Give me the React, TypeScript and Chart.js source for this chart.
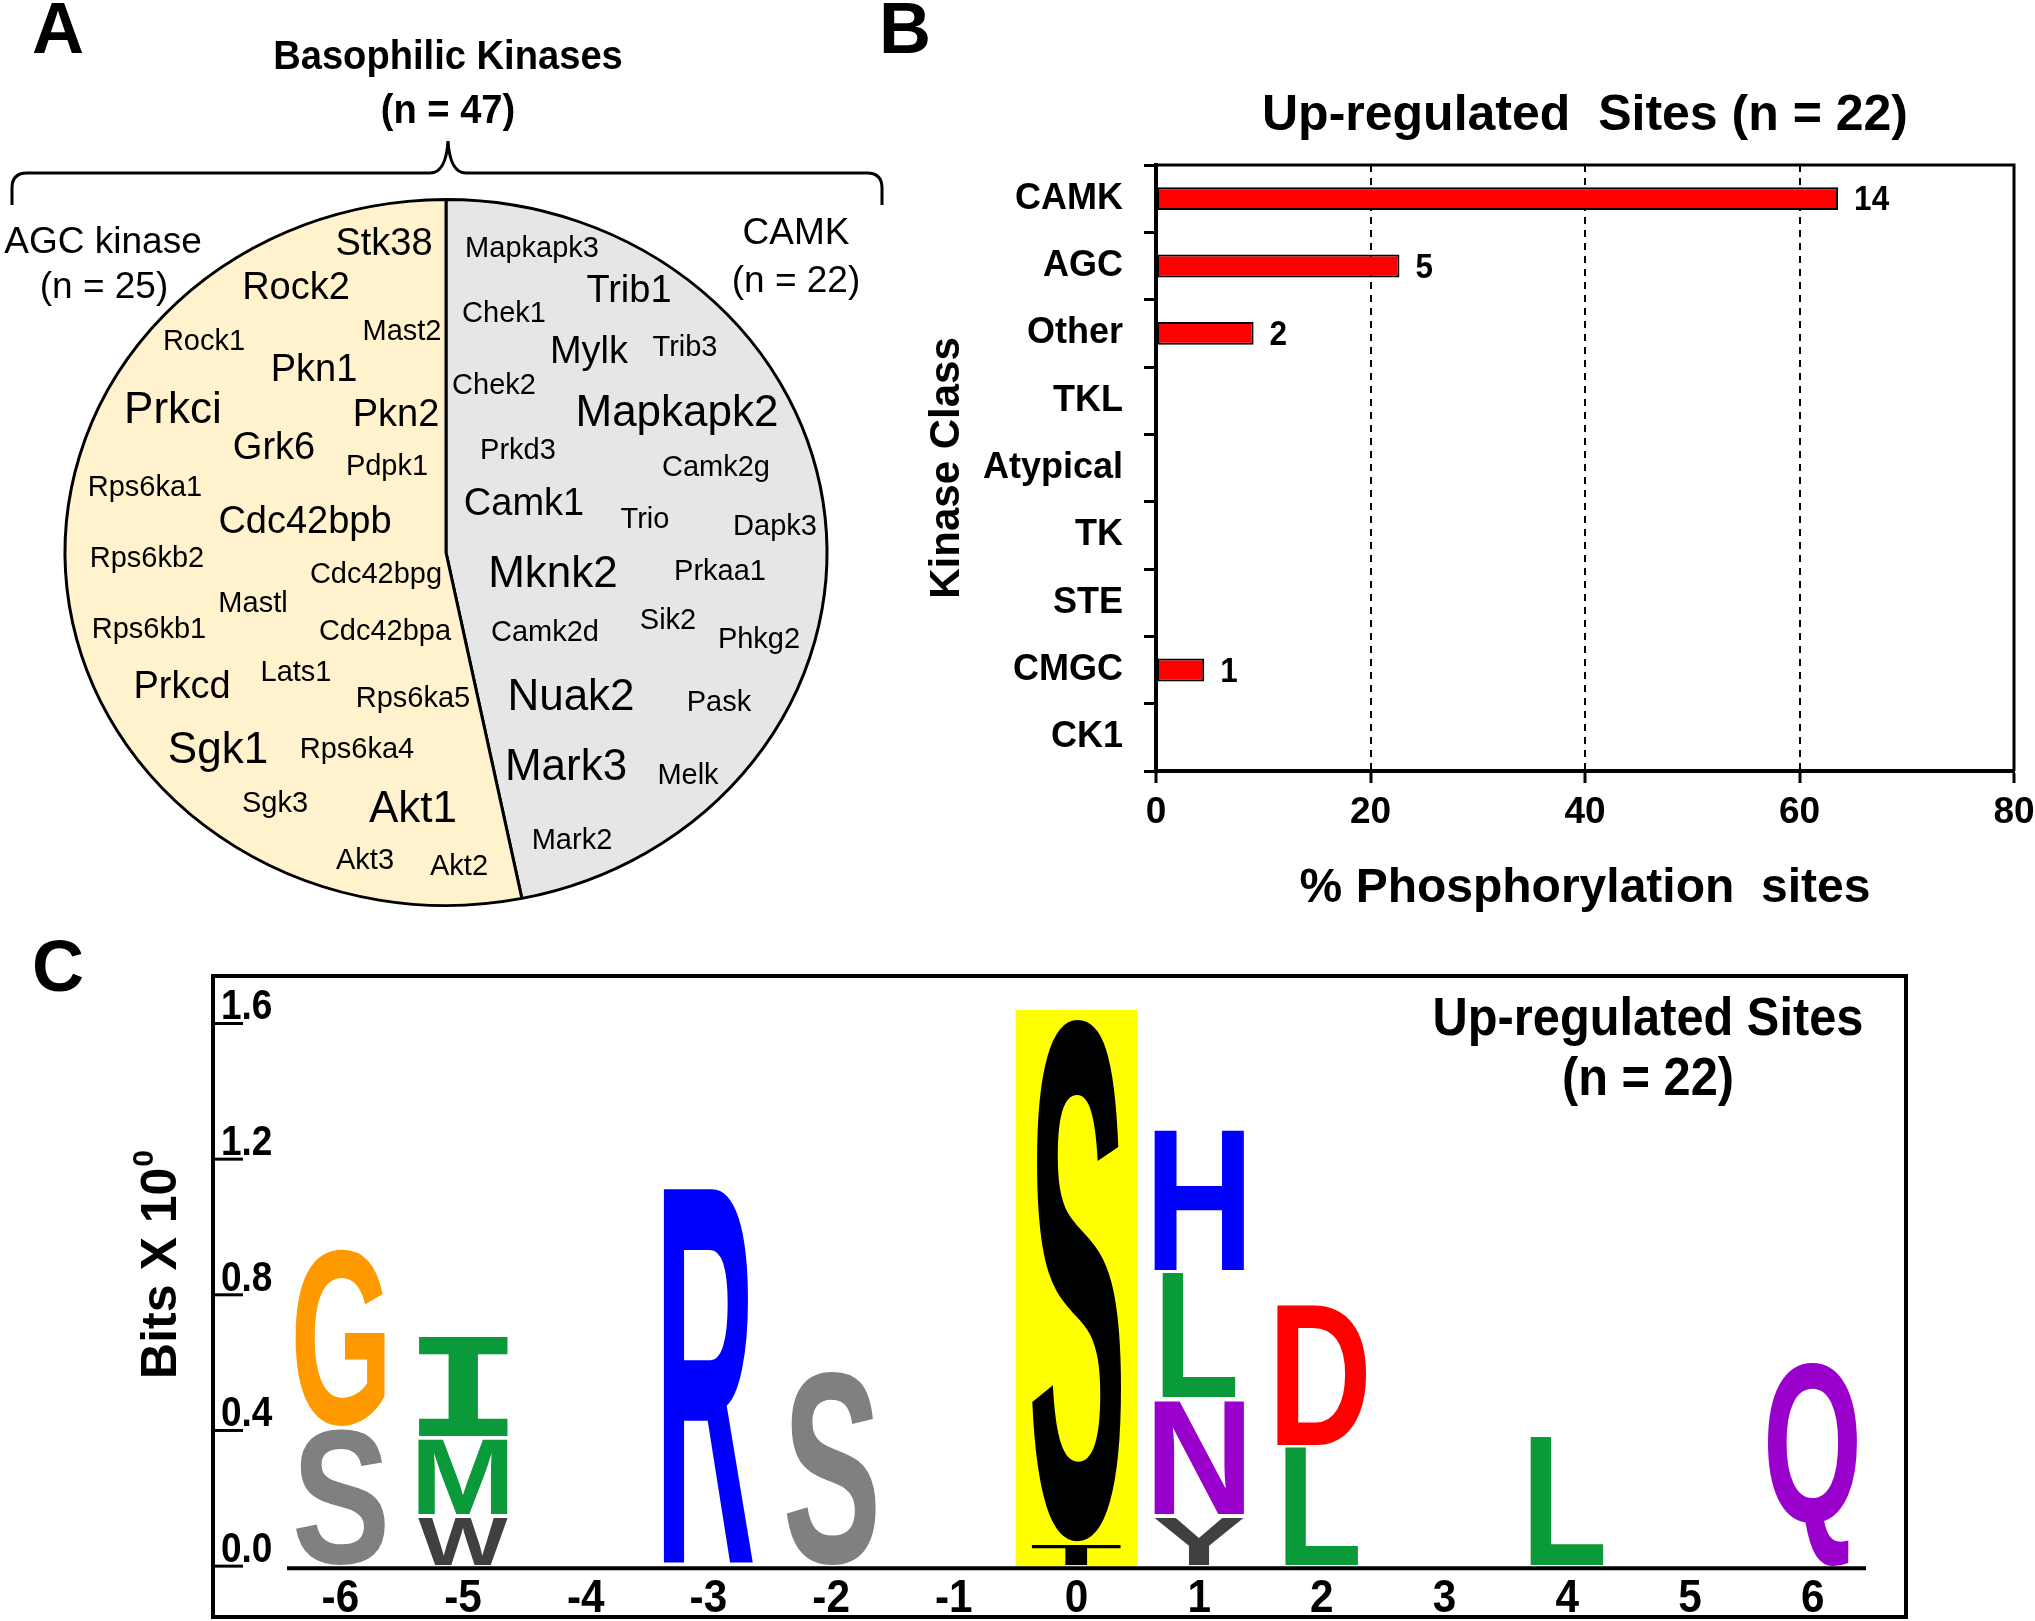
import React, { useEffect, useRef } from 'react';
import { Chart, registerables } from 'chart.js';

Chart.register(...registerables);

const FONT = "'Liberation Sans', Arial, Helvetica, sans-serif";
Chart.defaults.font.family = FONT;
Chart.defaults.color = '#000';

// ---------------- Panel A data ----------------
const pieClasses = ['CAMK', 'AGC kinase'];
const pieCounts = [22, 25];
const pieColors = ['#E6E6E6', '#FFF2CC'];
const totalKinases = 47;

const agcKinases = [
  'Stk38', 'Rock2', 'Rock1', 'Mast2', 'Pkn1', 'Prkci', 'Pkn2', 'Grk6', 'Pdpk1', 'Rps6ka1',
  'Cdc42bpb', 'Rps6kb2', 'Cdc42bpg', 'Mastl', 'Rps6kb1', 'Cdc42bpa', 'Prkcd', 'Lats1',
  'Rps6ka5', 'Sgk1', 'Rps6ka4', 'Sgk3', 'Akt1', 'Akt3', 'Akt2',
];
const camkKinases = [
  'Mapkapk3', 'Trib1', 'Chek1', 'Mylk', 'Trib3', 'Chek2', 'Mapkapk2', 'Prkd3', 'Camk2g',
  'Camk1', 'Trio', 'Dapk3', 'Mknk2', 'Prkaa1', 'Camk2d', 'Sik2', 'Phkg2', 'Nuak2', 'Pask',
  'Mark3', 'Melk', 'Mark2',
];

// layout of the word labels inside the pie: [dx, dy from pie centre, size class]
const labelFontSizes = [29, 38, 44];
const agcLabelLayout: [number, number, number][] = [
  [-62, -308, 1], [-150, -264, 1], [-242, -211, 0], [-44, -221, 0], [-132, -182, 1],
  [-273, -142, 2], [-50, -137, 1], [-172, -104, 1], [-59, -86, 0], [-301, -65, 0],
  [-141, -30, 1], [-299, 6, 0], [-70, 22, 0], [-193, 51, 0], [-297, 77, 0],
  [-61, 79, 0], [-264, 135, 1], [-150, 120, 0], [-33, 146, 0], [-228, 198, 2],
  [-89, 197, 0], [-171, 251, 0], [-33, 257, 2], [-81, 308, 0], [13, 314, 0],
];
const camkLabelLayout: [number, number, number][] = [
  [86, -304, 0], [183, -261, 1], [58, -239, 0], [143, -200, 1], [239, -205, 0],
  [48, -167, 0], [231, -139, 2], [72, -102, 0], [270, -85, 0], [78, -48, 1],
  [199, -33, 0], [329, -26, 0], [107, 22, 2], [274, 19, 0], [99, 80, 0],
  [222, 68, 0], [313, 87, 0], [125, 145, 2], [273, 150, 0], [120, 215, 2],
  [242, 223, 0], [126, 288, 0],
];
const PIE_Y_SCALE = 353 / 381;

// ---------------- Panel B data ----------------
const kinaseClasses = ['CAMK', 'AGC', 'Other', 'TKL', 'Atypical', 'TK', 'STE', 'CMGC', 'CK1'];
const sitePercent = [63.6, 22.7, 9.1, 0, 0, 0, 0, 4.5, 0];
const siteCounts = [14, 5, 2, 0, 0, 0, 0, 1, 0];
const xTicksB = [0, 20, 40, 60, 80];
const upSitesN = 22;

// ---------------- Panel C data ----------------
const logoPositions = ['-6', '-5', '-4', '-3', '-2', '-1', '0', '1', '2', '3', '4', '5', '6'];
const layer1Letters = ['S', 'W', '', 'R', 'S', '', 'T', 'Y', 'L', '', 'L', '', 'Q'];
const layer1Bits = [0.41, 0.15, 0, 1.12, 0.58, 0, 0.07, 0.15, 0.355, 0, 0.385, 0, 0.61];
const layer2Letters = ['G', 'M', '', '', '', '', 'S', 'N', 'D', '', '', '', ''];
const layer2Bits = [0.53, 0.23, 0, 0, 0, 0, 1.55, 0.345, 0.42, 0, 0, 0, 0];
const layer3Letters = ['', 'I', '', '', '', '', '', 'L', '', '', '', '', ''];
const layer3Bits = [0, 0.3, 0, 0, 0, 0, 0, 0.375, 0, 0, 0, 0, 0];
const layer4Letters = ['', '', '', '', '', '', '', 'H', '', '', '', '', ''];
const layer4Bits = [0, 0, 0, 0, 0, 0, 0, 0.425, 0, 0, 0, 0, 0];
const logoYTicks = [0, 0.4, 0.8, 1.2, 1.6];
const highlightPosition = '0';
const highlightBits = 1.64;

const aaColors: Record<string, string> = {
  G: '#FF9900', S: '#808080', W: '#404040', Y: '#404040', M: '#0A9A3A', I: '#0A9A3A',
  L: '#0A9A3A', R: '#0000FF', H: '#0000FF', D: '#FF0000', N: '#9900CC', Q: '#9900CC', T: '#000000',
};
const letterWidthFactor: Record<string, number> = { L: 0.82 };

// ---------------- helpers ----------------
function drawText(
  ctx: CanvasRenderingContext2D, text: string, x: number, y: number, font: string,
  align: CanvasTextAlign = 'center', baseline: CanvasTextBaseline = 'middle', sx = 1,
) {
  ctx.save();
  ctx.font = font;
  ctx.fillStyle = '#000';
  ctx.textAlign = align;
  ctx.textBaseline = baseline;
  ctx.translate(x, y);
  ctx.scale(sx, 1);
  ctx.fillText(text, 0, 0);
  ctx.restore();
}

function drawGlyph(ctx: CanvasRenderingContext2D, ch: string, x: number, y: number, w: number, h: number, color: string) {
  ctx.save();
  ctx.font = ch === 'I' ? "bold 200px 'DejaVu Sans Mono', 'Liberation Mono', monospace" : `bold 200px ${FONT}`;
  const m = ctx.measureText(ch);
  const gl = m.actualBoundingBoxLeft;
  const gr = m.actualBoundingBoxRight;
  const ga = m.actualBoundingBoxAscent;
  const gd = m.actualBoundingBoxDescent;
  const gw = gl + gr;
  const gh = ga + gd;
  ctx.translate(x, y);
  ctx.scale(w / gw, h / gh);
  ctx.fillStyle = color;
  ctx.textAlign = 'left';
  ctx.textBaseline = 'alphabetic';
  ctx.fillText(ch, gl, ga);
  ctx.restore();
}

// ---------------- Panel A ----------------
function PiePanel() {
  const ref = useRef<HTMLCanvasElement>(null);
  useEffect(() => {
    if (!ref.current) return;
    const ellipse = {
      id: 'ellipse',
      beforeDatasetsDraw(chart: any) {
        const arc = chart.getDatasetMeta(0).data[0];
        const ctx = chart.ctx;
        ctx.save();
        ctx.translate(arc.x, arc.y);
        ctx.scale(1, PIE_Y_SCALE);
        ctx.translate(-arc.x, -arc.y);
      },
      afterDatasetsDraw(chart: any) {
        chart.ctx.restore();
      },
    };
    const deco = {
      id: 'decoA',
      afterDraw(chart: any) {
        const ctx = chart.ctx as CanvasRenderingContext2D;
        const arc = chart.getDatasetMeta(0).data[0];
        const cx = arc.x;
        const cy = arc.y;
        const put = (names: string[], layout: [number, number, number][]) => {
          names.forEach((n, i) => {
            const [dx, dy, s] = layout[i];
            drawText(ctx, n, cx + dx, cy + dy, `${labelFontSizes[s]}px ${FONT}`);
          });
        };
        put(agcKinases, agcLabelLayout);
        put(camkKinases, camkLabelLayout);

        // panel letter
        drawText(ctx, 'A', 58, 33, `bold 72px ${FONT}`);
        // heading
        drawText(ctx, 'Basophilic Kinases', cx + 2, 58, `bold 41px ${FONT}`, 'center', 'middle', 0.93);
        drawText(ctx, `(n = ${totalKinases})`, cx + 2, 112, `bold 41px ${FONT}`, 'center', 'middle', 0.93);
        // brace
        ctx.save();
        ctx.strokeStyle = '#000';
        ctx.lineWidth = 3;
        ctx.beginPath();
        ctx.moveTo(12, 205);
        ctx.lineTo(12, 188);
        ctx.quadraticCurveTo(12, 173, 27, 173);
        ctx.lineTo(430, 173);
        ctx.quadraticCurveTo(446, 173, 448, 141);
        ctx.quadraticCurveTo(450, 173, 466, 173);
        ctx.lineTo(867, 173);
        ctx.quadraticCurveTo(882, 173, 882, 188);
        ctx.lineTo(882, 205);
        ctx.stroke();
        ctx.restore();
        // class labels
        drawText(ctx, pieClasses[1], 103, 243, `37px ${FONT}`);
        drawText(ctx, `(n = ${pieCounts[1]})`, 104, 288, `37px ${FONT}`);
        drawText(ctx, pieClasses[0], 796, 234, `37px ${FONT}`);
        drawText(ctx, `(n = ${pieCounts[0]})`, 796, 282, `37px ${FONT}`);
      },
    };
    const chart = new Chart(ref.current, {
      type: 'pie',
      data: {
        labels: pieClasses,
        datasets: [{ data: pieCounts, backgroundColor: pieColors, borderColor: '#000', borderWidth: 3 }],
      },
      options: {
        responsive: false,
        maintainAspectRatio: false,
        animation: false,
        events: [],
        layout: { padding: { left: 63, right: 71, top: 170, bottom: 5 } },
        plugins: { legend: { display: false }, tooltip: { enabled: false } },
      },
      plugins: [ellipse, deco],
    });
    return () => chart.destroy();
  }, []);
  return (
    <canvas ref={ref} width={900} height={940}
      style={{ position: 'absolute', left: 0, top: 0, width: 900, height: 940 }} />
  );
}

// ---------------- Panel B ----------------
function BarPanel() {
  const ref = useRef<HTMLCanvasElement>(null);
  useEffect(() => {
    if (!ref.current) return;
    const deco = {
      id: 'decoB',
      afterDraw(chart: any) {
        const ctx = chart.ctx as CanvasRenderingContext2D;
        const { left, right, top, bottom } = chart.chartArea;
        ctx.save();
        ctx.strokeStyle = '#000';
        ctx.lineWidth = 3;
        ctx.beginPath();
        ctx.moveTo(left, top);
        ctx.lineTo(right, top);
        ctx.lineTo(right, bottom);
        ctx.stroke();
        ctx.restore();
        const meta = chart.getDatasetMeta(0);
        meta.data.forEach((bar: any, i: number) => {
          if (!siteCounts[i]) return;
          drawText(ctx, String(siteCounts[i]), bar.x + 16, bar.y + 2, `bold 35px ${FONT}`, 'left', 'middle', 0.9);
        });
        drawText(ctx, 'B', 25, 33, `bold 72px ${FONT}`);
      },
    };
    const chart = new Chart(ref.current, {
      type: 'bar',
      data: {
        labels: kinaseClasses,
        datasets: [{
          data: sitePercent,
          backgroundColor: '#FF0000',
          borderColor: '#000',
          borderWidth: 2,
          borderSkipped: false,
          barPercentage: 0.34,
          categoryPercentage: 1,
        }],
      },
      options: {
        indexAxis: 'y',
        responsive: false,
        maintainAspectRatio: false,
        animation: false,
        events: [],
        layout: { padding: { left: 0, right: 21, top: 0, bottom: 12 } },
        plugins: {
          legend: { display: false },
          tooltip: { enabled: false },
          title: {
            display: true,
            text: `Up-regulated  Sites (n = ${upSitesN})`,
            fullSize: false,
            color: '#000',
            font: { size: 50, weight: 'bold', family: FONT },
            padding: { top: 86, bottom: 19 },
          },
        },
        scales: {
          x: {
            type: 'linear',
            min: xTicksB[0],
            max: xTicksB[xTicksB.length - 1],
            afterBuildTicks: (s: any) => { s.ticks = xTicksB.map((v) => ({ value: v })); },
            ticks: { color: '#000', font: { size: 37, weight: 'bold', family: FONT }, padding: 8 },
            grid: {
              color: (c: any) => (c.tick && (c.tick.value === 0 || c.tick.value === 80) ? 'rgba(0,0,0,0)' : '#000'),
              lineWidth: 2,
              tickColor: '#000',
              tickWidth: 3,
              tickLength: 12,
            },
            border: { display: true, color: '#000', width: 4, dash: [7, 6] },
            title: {
              display: true,
              text: '% Phosphorylation  sites',
              color: '#000',
              font: { size: 48, weight: 'bold', family: FONT },
              padding: { top: 25, bottom: 0 },
            },
            afterFit: (s: any) => { s.height = 147; s.paddingLeft = 0; s.paddingRight = 0; },
          },
          y: {
            type: 'category',
            ticks: { color: '#000', font: { size: 36, weight: 'bold', family: FONT }, padding: 21, autoSkip: false },
            grid: { drawOnChartArea: false, color: '#000', tickLength: 12, lineWidth: 3 },
            border: { display: true, color: '#000', width: 4 },
            title: {
              display: true,
              text: 'Kinase Class',
              color: '#000',
              font: { size: 42, weight: 'bold', family: FONT },
              padding: { top: 42, bottom: 0 },
            },
            afterFit: (s: any) => { s.width = 276; s.paddingTop = 0; s.paddingBottom = 0; },
          },
        },
      } as any,
      plugins: [deco],
    });
    return () => chart.destroy();
  }, []);
  return (
    <canvas ref={ref} width={1155} height={930}
      style={{ position: 'absolute', left: 880, top: 0, width: 1155, height: 930 }} />
  );
}

// ---------------- Panel C ----------------
function LogoPanel() {
  const ref = useRef<HTMLCanvasElement>(null);
  useEffect(() => {
    if (!ref.current) return;
    const letters = [layer1Letters, layer2Letters, layer3Letters, layer4Letters];
    const bits = [layer1Bits, layer2Bits, layer3Bits, layer4Bits];
    const hiIndex = logoPositions.indexOf(highlightPosition);

    const background = {
      id: 'hilite',
      beforeDatasetsDraw(chart: any) {
        const ctx = chart.ctx as CanvasRenderingContext2D;
        const xs = chart.scales.x;
        const ys = chart.scales.y;
        const band = xs.getPixelForValue(1) - xs.getPixelForValue(0);
        const xc = xs.getPixelForValue(hiIndex);
        const y0 = ys.getPixelForValue(0);
        const y1 = ys.getPixelForValue(highlightBits);
        ctx.save();
        ctx.fillStyle = '#FFFF00';
        ctx.fillRect(xc - band / 2 + 0.5, y1, band - 1, y0 - y1);
        ctx.restore();
      },
    };
    const glyphs = {
      id: 'glyphs',
      afterDatasetsDraw(chart: any) {
        const ctx = chart.ctx as CanvasRenderingContext2D;
        letters.forEach((row, di) => {
          const meta = chart.getDatasetMeta(di);
          meta.data.forEach((el: any, i: number) => {
            const ch = row[i];
            if (!ch) return;
            const h = el.base - el.y;
            if (h < 2) return;
            const w = el.width * (letterWidthFactor[ch] || 1);
            const color = i === hiIndex ? '#000000' : aaColors[ch] || '#000';
            drawGlyph(ctx, ch, el.x - w / 2, el.y + 2, w, h - 3, color);
          });
        });
      },
    };
    const deco = {
      id: 'decoC',
      afterDraw(chart: any) {
        const ctx = chart.ctx as CanvasRenderingContext2D;
        const { left, right, top, bottom } = chart.chartArea;
        const xs = chart.scales.x;
        const ys = chart.scales.y;
        const frameL = left - 66;
        const frameR = right + 32;
        ctx.save();
        ctx.strokeStyle = '#000';
        ctx.lineWidth = 4;
        ctx.strokeRect(frameL, top, frameR - frameL, bottom - top);
        // baseline
        const y0 = ys.getPixelForValue(0);
        ctx.beginPath();
        ctx.moveTo(left + 8, y0 + 2);
        ctx.lineTo(right - 8, y0 + 2);
        ctx.stroke();
        // y ticks
        ctx.lineWidth = 3;
        logoYTicks.forEach((v) => {
          const py = ys.getPixelForValue(v);
          ctx.beginPath();
          ctx.moveTo(frameL, py);
          ctx.lineTo(frameL + 30, py);
          ctx.stroke();
          drawText(ctx, v.toFixed(1), frameL + 8, py - 4, `bold 43px ${FONT}`, 'left', 'alphabetic', 0.86);
        });
        ctx.restore();
        // x labels
        logoPositions.forEach((p, i) => {
          drawText(ctx, p, xs.getPixelForValue(i), y0 + 33, `bold 47px ${FONT}`, 'center', 'middle', 0.9);
        });
        // title inside
        drawText(ctx, 'Up-regulated Sites', 1648, 90, `bold 53px ${FONT}`, 'center', 'middle', 0.92);
        drawText(ctx, `(n = ${upSitesN})`, 1648, 150, `bold 53px ${FONT}`, 'center', 'middle', 0.92);
        // y title
        ctx.save();
        ctx.translate(162, 335);
        ctx.rotate(-Math.PI / 2);
        ctx.fillStyle = '#000';
        ctx.textAlign = 'left';
        ctx.textBaseline = 'middle';
        ctx.font = `bold 50px ${FONT}`;
        const w1 = ctx.measureText('Bits X 10').width;
        ctx.font = `bold 30px ${FONT}`;
        const w2 = ctx.measureText('0').width;
        const start = -(w1 + w2) / 2;
        ctx.font = `bold 50px ${FONT}`;
        ctx.fillText('Bits X 10', start, 0);
        ctx.font = `bold 30px ${FONT}`;
        ctx.fillText('0', start + w1 + 1, -17);
        ctx.restore();
        // panel letter
        drawText(ctx, 'C', 58, 41, `bold 72px ${FONT}`);
      },
    };
    const chart = new Chart(ref.current, {
      type: 'bar',
      data: {
        labels: logoPositions,
        datasets: bits.map((b) => ({
          data: b,
          backgroundColor: 'rgba(0,0,0,0)',
          borderWidth: 0,
          barPercentage: 0.73,
          categoryPercentage: 1,
        })),
      },
      options: {
        responsive: false,
        maintainAspectRatio: false,
        animation: false,
        events: [],
        layout: { padding: { left: 279, right: 161, top: 46, bottom: 4 } },
        plugins: { legend: { display: false }, tooltip: { enabled: false } },
        scales: {
          x: { type: 'category', stacked: true, display: false, offset: true },
          y: { type: 'linear', stacked: true, display: false, min: -0.15, max: 1.74 },
        },
      },
      plugins: [background, glyphs, deco],
    });
    return () => chart.destroy();
  }, []);
  return (
    <canvas ref={ref} width={2035} height={691}
      style={{ position: 'absolute', left: 0, top: 930, width: 2035, height: 691 }} />
  );
}

export default function App() {
  return (
    <div style={{ position: 'absolute', left: 0, top: 0, width: 2035, height: 1621, background: '#fff', overflow: 'hidden' }}>
      <PiePanel />
      <LogoPanel />
      <BarPanel />
    </div>
  );
}
